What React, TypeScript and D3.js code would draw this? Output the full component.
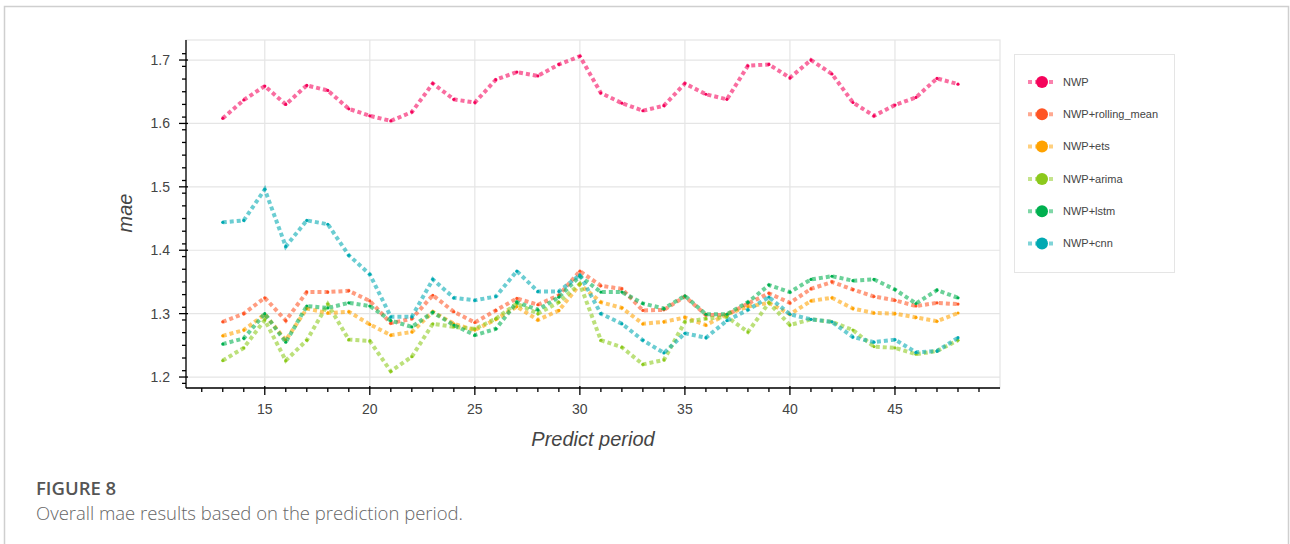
import React, { useEffect, useRef } from 'react';
import * as d3 from 'd3';

const periods = d3.range(13, 49);

const nwp = [1.608, 1.637, 1.659, 1.630, 1.660, 1.652, 1.623, 1.612, 1.604, 1.618, 1.663, 1.638, 1.633, 1.669, 1.681, 1.675, 1.693, 1.706,
  1.648, 1.632, 1.620, 1.628, 1.663, 1.646, 1.638, 1.691, 1.693, 1.672, 1.700, 1.678, 1.633, 1.612, 1.629, 1.641, 1.671, 1.662];
const rollingMean = [1.287, 1.300, 1.325, 1.289, 1.334, 1.334, 1.336, 1.320, 1.285, 1.292, 1.329, 1.303, 1.286, 1.305, 1.324, 1.314, 1.329, 1.367,
  1.344, 1.339, 1.305, 1.306, 1.327, 1.298, 1.298, 1.316, 1.332, 1.317, 1.339, 1.350, 1.338, 1.327, 1.321, 1.312, 1.317, 1.315];
const ets = [1.265, 1.274, 1.299, 1.258, 1.308, 1.301, 1.303, 1.283, 1.266, 1.271, 1.303, 1.284, 1.274, 1.291, 1.311, 1.290, 1.305, 1.346,
  1.318, 1.309, 1.284, 1.287, 1.294, 1.282, 1.299, 1.311, 1.317, 1.299, 1.320, 1.325, 1.308, 1.301, 1.300, 1.294, 1.288, 1.301];
const arima = [1.226, 1.246, 1.290, 1.226, 1.258, 1.315, 1.259, 1.257, 1.209, 1.232, 1.284, 1.279, 1.276, 1.292, 1.316, 1.300, 1.318, 1.347,
  1.258, 1.247, 1.220, 1.227, 1.287, 1.292, 1.295, 1.271, 1.317, 1.282, 1.291, 1.287, 1.274, 1.248, 1.246, 1.236, 1.241, 1.258];
const lstm = [1.252, 1.261, 1.300, 1.255, 1.312, 1.309, 1.317, 1.312, 1.289, 1.279, 1.302, 1.282, 1.266, 1.276, 1.318, 1.306, 1.326, 1.359,
  1.334, 1.334, 1.316, 1.308, 1.328, 1.299, 1.299, 1.318, 1.345, 1.334, 1.354, 1.359, 1.352, 1.354, 1.338, 1.316, 1.337, 1.325];
const cnn = [1.444, 1.447, 1.496, 1.406, 1.447, 1.441, 1.392, 1.362, 1.295, 1.295, 1.354, 1.325, 1.321, 1.327, 1.367, 1.335, 1.335, 1.361,
  1.300, 1.284, 1.258, 1.238, 1.269, 1.262, 1.289, 1.306, 1.326, 1.299, 1.291, 1.287, 1.263, 1.255, 1.259, 1.239, 1.241, 1.262];

const seriesNames = ['NWP', 'NWP+rolling_mean', 'NWP+ets', 'NWP+arima', 'NWP+lstm', 'NWP+cnn'];
const seriesValues = [nwp, rollingMean, ets, arima, lstm, cnn];
const seriesColors = ['#f5035b', '#ff5424', '#ffa200', '#8cc91c', '#00b04f', '#00a9b2'];

const xTicks = [15, 20, 25, 30, 35, 40, 45];
const yTicks = [1.2, 1.3, 1.4, 1.5, 1.6, 1.7];

const W = 1290;
const H = 544;

const App = () => {
  const svgRef = useRef<SVGSVGElement>(null);

  useEffect(() => {
    document.body.style.margin = '0';
    const svg = d3.select(svgRef.current);
    svg.selectAll('*').remove();

    const left = 186, right = 1000, top = 40, bottom = 388;
    const x = d3.scaleLinear().domain([11.25, 50]).range([left, right]);
    const y = d3.scaleLinear().domain([1.1827, 1.7316]).range([bottom, top]);
    const font = 'Helvetica, Arial, "Liberation Sans", sans-serif';
    const capFont = '"Open Sans", "Noto Sans", sans-serif';

    // figure frame
    svg.append('rect')
      .attr('x', 4.5).attr('y', 6.5).attr('width', W - 6).attr('height', H + 20)
      .attr('fill', 'none').attr('stroke', '#cfcfcf').attr('stroke-width', 1.5);

    // plot outline + grid
    svg.append('rect')
      .attr('x', left).attr('y', top).attr('width', right - left).attr('height', bottom - top)
      .attr('fill', 'none').attr('stroke', '#e5e5e5').attr('stroke-width', 1.2);

    svg.append('g').selectAll('line').data(xTicks).enter().append('line')
      .attr('x1', d => x(d)).attr('x2', d => x(d)).attr('y1', top).attr('y2', bottom)
      .attr('stroke', '#e5e5e5').attr('stroke-width', 1.2);
    svg.append('g').selectAll('line').data(yTicks).enter().append('line')
      .attr('x1', left).attr('x2', right).attr('y1', d => y(d)).attr('y2', d => y(d))
      .attr('stroke', '#e5e5e5').attr('stroke-width', 1.2);

    // axes
    const axisG = svg.append('g').attr('stroke', '#000').attr('stroke-width', 1.3);
    axisG.append('line').attr('x1', left).attr('x2', left).attr('y1', top).attr('y2', bottom);
    axisG.append('line').attr('x1', left).attr('x2', right).attr('y1', bottom).attr('y2', bottom);

    const xMinor = d3.range(12, 50).filter(v => !xTicks.includes(v));
    axisG.selectAll('.xminor').data(xMinor).enter().append('line')
      .attr('x1', d => x(d)).attr('x2', d => x(d)).attr('y1', bottom).attr('y2', bottom + 4);
    axisG.selectAll('.xmajor').data(xTicks).enter().append('line')
      .attr('x1', d => x(d)).attr('x2', d => x(d)).attr('y1', bottom - 2).attr('y2', bottom + 7);

    const yMinor = d3.range(1.19, 1.73, 0.02).map(v => +v.toFixed(2))
      .filter(v => !yTicks.some(t => Math.abs(t - v) < 1e-6));
    axisG.selectAll('.yminor').data(yMinor).enter().append('line')
      .attr('x1', left - 4).attr('x2', left).attr('y1', d => y(d)).attr('y2', d => y(d));
    axisG.selectAll('.ymajor').data(yTicks).enter().append('line')
      .attr('x1', left - 7).attr('x2', left + 2).attr('y1', d => y(d)).attr('y2', d => y(d));

    svg.append('g').selectAll('text').data(xTicks).enter().append('text')
      .attr('x', d => x(d)).attr('y', bottom + 26)
      .attr('text-anchor', 'middle').attr('font-family', font).attr('font-size', 14).attr('fill', '#444')
      .text(d => d);
    svg.append('g').selectAll('text').data(yTicks).enter().append('text')
      .attr('x', left - 16).attr('y', d => y(d)).attr('dy', '0.35em')
      .attr('text-anchor', 'end').attr('font-family', font).attr('font-size', 14).attr('fill', '#444')
      .text(d => d.toFixed(1));

    svg.append('text')
      .attr('x', (left + right) / 2).attr('y', 446)
      .attr('text-anchor', 'middle').attr('font-family', font).attr('font-style', 'italic')
      .attr('font-size', 20).attr('fill', '#444').text('Predict period');
    svg.append('text')
      .attr('transform', `translate(132,${(top + bottom) / 2 - 1}) rotate(-90)`)
      .attr('text-anchor', 'middle').attr('font-family', font).attr('font-style', 'italic')
      .attr('font-size', 20).attr('fill', '#444').text('mae');

    // series
    const line = d3.line<number>().x((_, i) => x(periods[i])).y(d => y(d));
    seriesValues.forEach((vals, k) => {
      const g = svg.append('g');
      g.append('path').datum(vals)
        .attr('d', line).attr('fill', 'none')
        .attr('stroke', seriesColors[k]).attr('stroke-opacity', 0.58)
        .attr('stroke-width', 4).attr('stroke-dasharray', '4,3');
      g.selectAll('circle').data(vals).enter().append('circle')
        .attr('cx', (_, i) => x(periods[i])).attr('cy', d => y(d)).attr('r', 1.6)
        .attr('fill', seriesColors[k]);
    });

    // legend
    const lg = svg.append('g');
    lg.append('rect').attr('x', 1014.5).attr('y', 54.5).attr('width', 160).attr('height', 218)
      .attr('fill', '#fff').attr('stroke', '#e5e5e5').attr('stroke-width', 1);
    seriesNames.forEach((name, k) => {
      const cy = 82 + k * 32.3;
      lg.append('line').attr('x1', 1028).attr('x2', 1056).attr('y1', cy).attr('y2', cy)
        .attr('stroke', seriesColors[k]).attr('stroke-opacity', 0.5)
        .attr('stroke-width', 4).attr('stroke-dasharray', '4,3');
      lg.append('circle').attr('cx', 1042).attr('cy', cy).attr('r', 6).attr('fill', seriesColors[k]);
      lg.append('text').attr('x', 1063).attr('y', cy).attr('dy', '0.35em')
        .attr('font-family', font).attr('font-size', 11).attr('fill', '#444').text(name);
    });

    // caption
    svg.append('text').attr('x', 36).attr('y', 495)
      .attr('font-family', capFont).attr('font-size', 18.5)
      .attr('font-weight', 600).attr('fill', '#555').text('FIGURE 8');
    svg.append('text').attr('x', 36).attr('y', 520)
      .attr('font-family', capFont).attr('font-size', 18.5).attr('font-weight', 300)
      .attr('fill', '#666').text('Overall mae results based on the prediction period.');
  }, []);

  return <svg ref={svgRef} width={W} height={H} style={{ display: 'block', background: '#fff' }} />;
};

export default App;
